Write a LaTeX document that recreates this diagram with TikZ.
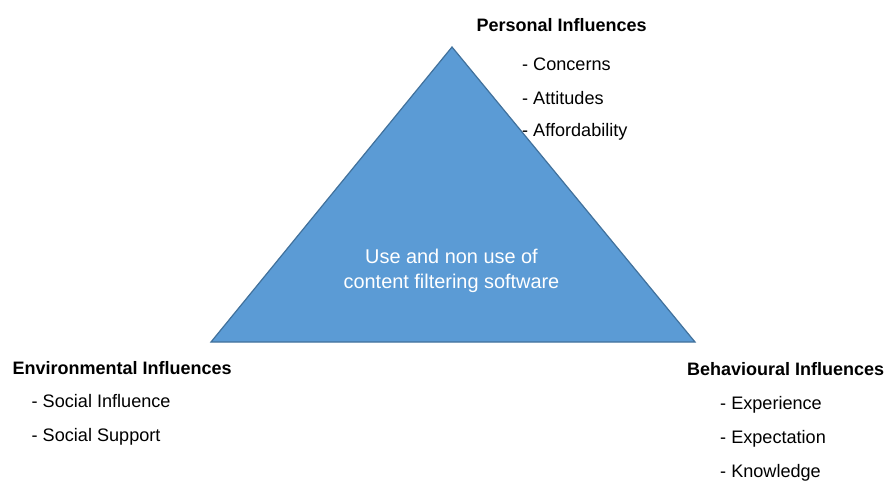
\documentclass[tikz,border=0pt]{standalone}
\usepackage{fontspec}
\setmainfont{Liberation Sans}
\definecolor{triFill}{HTML}{5B9BD5}
\definecolor{triEdge}{HTML}{41719C}
\begin{document}
\begin{tikzpicture}[x=1pt,y=-1pt,
  label/.style={anchor=base west,inner sep=0pt,font=\fontsize{18.1}{21}\selectfont},
  heading/.style={label,font=\fontsize{18}{21}\selectfont\bfseries},
  centre/.style={anchor=base,inner sep=0pt,text=white,font=\fontsize{19.9}{23}\selectfont}]
  \useasboundingbox (0,0) rectangle (894,480);
  % central triangle
  \coordinate (apex) at (452,47);
  \coordinate (bl) at (211,342);
  \coordinate (br) at (695,342);
  \filldraw[fill=triFill,draw=triEdge,line width=1.2pt,line join=miter] (apex) -- (bl) -- (br) -- cycle;
  \node[centre] (c1) at (451.5,263) {Use and non use of};
  \node[centre] (c2) at (451.5,288.5) {content filtering software};
  % personal influences
  \node[heading] (ph) at (476.5,31) {Personal Influences};
  \node[label] (p1) at (522,70) {- Concerns};
  \node[label] (p2) at (522,104) {- Attitudes};
  \node[label] (p3) at (522,136.5) {- Affordability};
  % environmental influences
  \node[heading] (eh) at (12.5,374) {Environmental Influences};
  \node[label] (e1) at (31.5,407.5) {- Social Influence};
  \node[label] (e2) at (31.5,441.5) {- Social Support};
  % behavioural influences
  \node[heading] (bh) at (687,375.5) {Behavioural Influences};
  \node[label] (b1) at (720,409) {- Experience};
  \node[label] (b2) at (720,443) {- Expectation};
  \node[label] (b3) at (720,477.5) {- Knowledge};
\end{tikzpicture}
\end{document}
